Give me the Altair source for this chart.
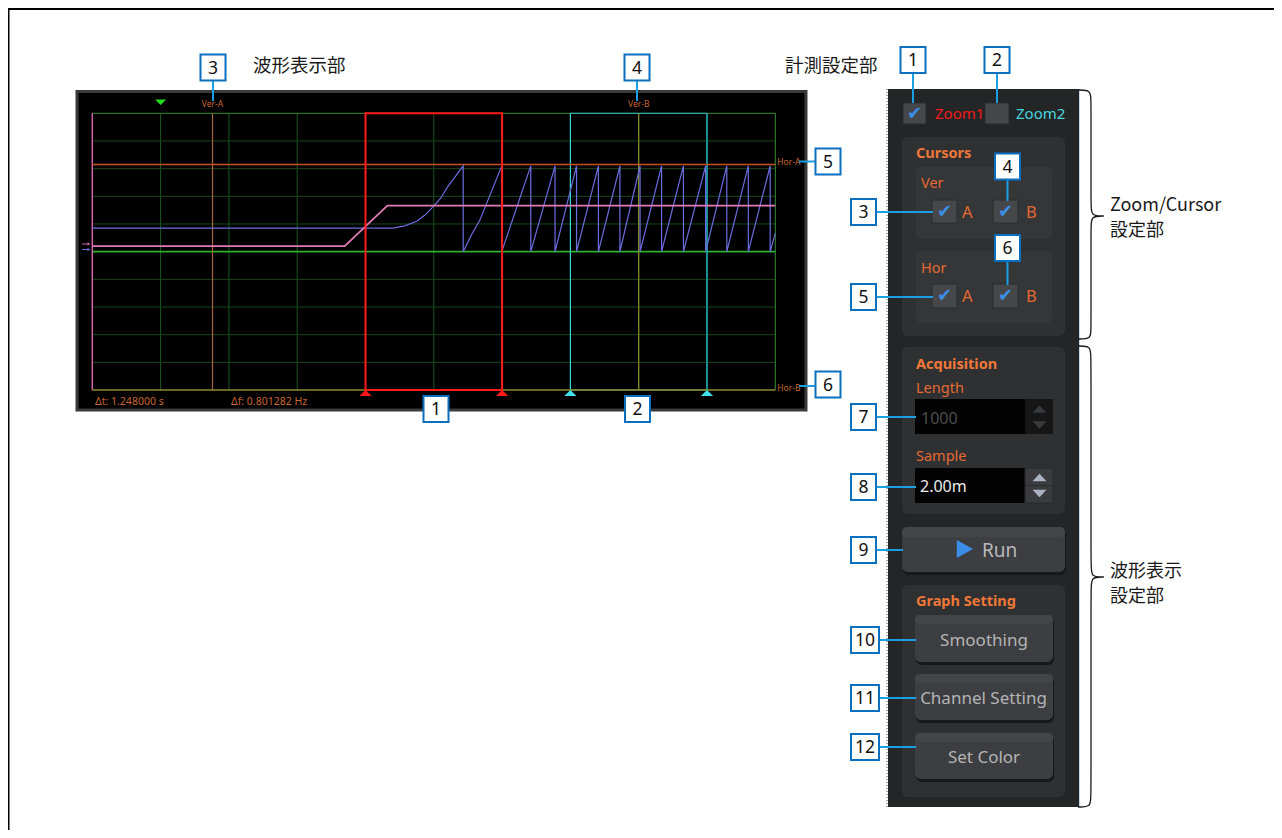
import altair as alt
import pandas as pd

# ======================= DATA =======================
# waveform display: time axis 0..2.0 s (10 div), value axis -5..5 div
time_grid = [0.2, 0.4, 0.6, 0.8, 1.0, 1.2, 1.4, 1.6, 1.8]
value_grid = [-4, -3, -2, -1, 1, 2, 3, 4]

ch1_t = [0.000, 0.739, 0.864, 2.000]
ch1_v = [0.20, 0.20, 1.66, 1.66]

ch2_t = [0.000, 0.880, 0.915, 0.950, 0.975, 1.001, 1.020, 1.041, 1.065, 1.086, 1.086,
         1.110, 1.135, 1.199, 1.199,
         1.284, 1.284, 1.355, 1.355, 1.418, 1.418, 1.482, 1.482, 1.545, 1.545,
         1.604, 1.604, 1.667, 1.667, 1.731, 1.731, 1.796, 1.796, 1.858, 1.858,
         1.921, 1.921, 1.985, 1.985, 2.000]
ch2_v = [0.85, 0.85, 0.93, 1.10, 1.33, 1.66, 1.93, 2.35, 2.75, 3.10, 0.00,
         0.60, 1.14, 3.10, 0.00,
         3.10, 0.00, 3.10, 0.00, 3.10, 0.00, 3.10, 0.00, 3.10, 0.00,
         3.10, 0.00, 3.10, 0.00, 3.10, 0.00, 3.10, 0.00, 3.10, 0.00,
         3.10, 0.00, 3.10, 0.00, 0.66]

ver_names = ["Ver-A", "Ver-B"]
ver_t = [0.352, 1.600]
hor_names = ["Hor-A", "Hor-B"]
hor_v = [3.15, -5.0]
zoom1_t = [0.8, 1.2]
zoom2_t = [1.4, 1.8]
trigger_t = [0.2]
delta_t = ver_t[1] - ver_t[0]

# UI texts
titles = ["波形表示部", "計測設定部"]
side_titles = [["Zoom/Cursor", "設定部"], ["波形表示", "設定部"]]
length_value = "1000"
sample_value = "2.00m"
buttons = ["Smoothing", "Channel Setting", "Set Color"]

# ======================= LAYOUT (page pixels) =======================
W, H = 1266, 822
OX, OY = 8, 8
PL, PR, PT, PB = 92.3, 775.3, 113.3, 390.0   # scope plot area
T_SPAN, V_DIV = 2.0, 10.0
V_LO, V_HI = -5.0, 5.0

PXS = alt.Scale(domain=[OX, OX + W], nice=False, zero=False)
PYS = alt.Scale(domain=[OY, OY + H], nice=False, zero=False, reverse=True)

kx = (PR - PL) / T_SPAN
ky = (PB - PT) / V_DIV
vmid = (PT + PB) / 2
TS = alt.Scale(domain=[(OX - PL) / kx, (OX + W - PL) / kx], nice=False, zero=False)
VS = alt.Scale(domain=[(vmid - (OY + H)) / ky, (vmid - OY) / ky], nice=False, zero=False)

SANS = "Noto Sans"
JP = "Noto Sans CJK JP"
ORANGE = "#ef7838"
SCOPE_TXT = "#c8662e"


def enc_px(x="x", y="y", x2=None, y2=None):
    e = dict(x=alt.X(f"{x}:Q", scale=PXS, axis=None),
             y=alt.Y(f"{y}:Q", scale=PYS, axis=None))
    if x2:
        e["x2"] = alt.X2(f"{x2}:Q")
    if y2:
        e["y2"] = alt.Y2(f"{y2}:Q")
    return e


def rects(boxes, **kw):
    df = pd.DataFrame(boxes, columns=["x", "x2", "y", "y2"])
    return alt.Chart(df).mark_rect(**kw).encode(**enc_px("x", "y", "x2", "y2"))


def lines(segs, **kw):
    df = pd.DataFrame(segs, columns=["x", "y", "x2", "y2"])
    return alt.Chart(df).mark_rule(**kw).encode(**enc_px("x", "y", "x2", "y2"))


def texts(rows, **kw):
    df = pd.DataFrame(rows, columns=["x", "y", "t"])
    return alt.Chart(df).mark_text(**kw).encode(**enc_px(), text="t:N")


def points(rows, **kw):
    df = pd.DataFrame(rows, columns=["x", "y"])
    return alt.Chart(df).mark_point(**kw).encode(**enc_px())


def enc_w(x="t", y="v", x2=None, y2=None):
    e = dict(x=alt.X(f"{x}:Q", scale=TS, axis=None),
             y=alt.Y(f"{y}:Q", scale=VS, axis=None))
    if x2:
        e["x2"] = alt.X2(f"{x2}:Q")
    if y2:
        e["y2"] = alt.Y2(f"{y2}:Q")
    return e


def vrules(ts, **kw):
    df = pd.DataFrame({"t": ts, "v": [V_LO] * len(ts), "v2": [V_HI] * len(ts)})
    return alt.Chart(df).mark_rule(**kw).encode(**enc_w("t", "v", None, "v2"))


def hrules(vs, **kw):
    df = pd.DataFrame({"v": vs, "t": [0.0] * len(vs), "t2": [T_SPAN] * len(vs)})
    return alt.Chart(df).mark_rule(**kw).encode(**enc_w("t", "v", "t2", None))


layers = []
# ----------------------------- background -----------------------------
layers += [
    lines([[OX, 9, OX + W, 9], [OX + 0.5, 9, OX + 0.5, OY + H]], color="#000", strokeWidth=2),
    rects([[77, 806, 91.5, 410]], fill="#000", stroke="#3a3a3a", strokeWidth=3),
    rects([[888, 1079, 89, 807]], fill="#242527"),
    lines([[887, 89, 887, 807]], color="#555", strokeWidth=1, strokeDash=[1, 2]),
    lines([[1079.5, 89, 1079.5, 807]], color="#c6d6e6", strokeWidth=1),
    rects([[902, 1065, 137, 336], [902, 1065, 347, 514], [902, 1065, 585, 797]],
          fill="#2f3032", cornerRadius=6),
    rects([[916, 1052, 167, 239], [916, 1052, 251, 323]], fill="#353638", cornerRadius=5),
    rects([[903, 1066, 529, 575], [916, 1054, 617, 665], [916, 1054, 676, 723], [916, 1054, 735, 782]],
          fill="#18191a", cornerRadius=6),
    rects([[902, 1065, 527, 572], [915, 1053, 615, 662], [915, 1053, 674, 720], [915, 1053, 733, 779]],
          fill="#3d3e41", cornerRadius=6),
    rects([[902, 1065, 527, 537], [915, 1053, 615, 624], [915, 1053, 674, 683], [915, 1053, 733, 742]],
          fill="#444548", cornerRadius=6),
    rects([[915, 1025, 399, 434], [915, 1025, 468, 503]], fill="#030303"),
    rects([[1025, 1053, 399, 434]], fill="#161616"),
    rects([[1025, 1053, 468, 503]], fill="#3a3b3e", stroke="#2a2a2a", strokeWidth=1),
    lines([[1026, 485.5, 1052, 485.5]], color="#2a2b2d", strokeWidth=1),
    rects([[903, 926, 103, 124], [985, 1009, 103, 124],
           [932, 957, 200, 223], [993, 1018, 200, 223],
           [932, 957, 284, 308], [993, 1018, 284, 308]],
          fill="#46474a", stroke="#2b2c2e", strokeWidth=1),
]

# ----------------------------- waveform layers -----------------------------
layers += [
    vrules(time_grid, color="#1d571d", strokeWidth=1),
    hrules(value_grid, color="#1a461a", strokeWidth=1),
    hrules([V_HI], color="#3a8c3a", strokeWidth=1),
    vrules([T_SPAN], color="#3a8c3a", strokeWidth=1),
    hrules([0.0], color="#2fb02f", strokeWidth=1.6),
    vrules([0.0], color="#d264a8", strokeWidth=1.5),
    alt.Chart(pd.DataFrame({"t": [zoom2_t[0]], "t2": [zoom2_t[1]], "v": [V_LO], "v2": [V_HI]}))
    .mark_rect(fillOpacity=0, stroke="#2bbcc4", strokeWidth=1)
    .encode(**enc_w("t", "v", "t2", "v2")),
    vrules([zoom2_t[0]], color="#3fd6dc", strokeWidth=1),
    vrules([zoom2_t[1]], color="#1a9ea6", strokeWidth=1.3),
    vrules([ver_t[0]], color="#a8643a", strokeWidth=1.2),
    vrules([ver_t[1]], color="#8e8c2a", strokeWidth=1.2),
    hrules([hor_v[0]], color="#c4521e", strokeWidth=1.3),
    hrules([hor_v[1]], color="#8e8c2a", strokeWidth=1.5),
    alt.Chart(pd.DataFrame({"t": ch2_t, "v": ch2_v, "i": list(range(len(ch2_t)))}))
    .mark_line(color="#6c6ee0", strokeWidth=1.2)
    .encode(order="i:Q", **enc_w()),
    alt.Chart(pd.DataFrame({"t": ch1_t, "v": ch1_v, "i": list(range(len(ch1_t)))}))
    .mark_line(color="#e27ab8", strokeWidth=1.8)
    .encode(order="i:Q", **enc_w()),
    alt.Chart(pd.DataFrame({"t": [zoom1_t[0]], "t2": [zoom1_t[1]], "v": [V_LO], "v2": [V_HI]}))
    .mark_rect(fillOpacity=0, stroke="#ff1a1a", strokeWidth=2)
    .encode(**enc_w("t", "v", "t2", "v2")),
    alt.Chart(pd.DataFrame({"t": zoom1_t, "v": [V_LO, V_LO]}))
    .mark_point(shape="M-1,0.5L0,-0.5L1,0.5Z", size=150, filled=True, color="#ff1a1a", opacity=1, yOffset=3)
    .encode(**enc_w()),
    alt.Chart(pd.DataFrame({"t": zoom2_t, "v": [V_LO, V_LO]}))
    .mark_point(shape="M-1,0.5L0,-0.5L1,0.5Z", size=150, filled=True, color="#3fe0ea", opacity=1, yOffset=3)
    .encode(**enc_w()),
    alt.Chart(pd.DataFrame({"t": trigger_t, "v": [V_HI]}))
    .mark_point(shape="M-1,-0.5L1,-0.5L0,0.5Z", size=121, filled=True, color="#22dd22", opacity=1, yOffset=-11)
    .encode(**enc_w()),
    alt.Chart(pd.DataFrame({"t": ver_t, "v": [V_HI, V_HI], "n": ver_names}))
    .mark_text(font=SANS, fontSize=8.5, color=SCOPE_TXT, dy=-9)
    .encode(text="n:N", **enc_w()),
    alt.Chart(pd.DataFrame({"t": [T_SPAN, T_SPAN], "v": hor_v, "n": hor_names}))
    .mark_text(font=SANS, fontSize=8.5, color=SCOPE_TXT, align="left", dx=2, dy=-2)
    .encode(text="n:N", **enc_w()),
]

# channel markers at the left edge of the scope (small arrows)
layers += [
    lines([[82, 244, 89, 244]], color="#d264a8", strokeWidth=1),
    lines([[82, 249.5, 89, 249.5]], color="#6c6ee0", strokeWidth=1),
    points([[89, 244]], shape="M-1,-1L1,0L-1,1Z", size=9, filled=True, color="#d264a8", opacity=1),
    points([[89, 249.5]], shape="M-1,-1L1,0L-1,1Z", size=9, filled=True, color="#6c6ee0", opacity=1),
]

# ----------------------------- foreground -----------------------------
layers += [
    texts([[95, 402, f"Δt: {delta_t:.6f} s"], [231, 402, f"Δf: {1 / delta_t:.6f} Hz"]],
          font=SANS, fontSize=10.5, color=SCOPE_TXT, align="left", baseline="middle"),
    texts([[253, 66, titles[0]], [785, 66, titles[1]]], font=JP, fontSize=18.5, color="#1a1a1a",
          align="left", baseline="middle"),
    texts([[1110, 206, side_titles[0][0]], [1110, 231, side_titles[0][1]],
           [1110, 572, side_titles[1][0]], [1110, 597, side_titles[1][1]]],
          font=JP, fontSize=18, color="#1a1a1a", align="left", baseline="middle"),
    texts([[935, 114, "Zoom1"]], font=SANS, fontSize=15, color="#f01818", align="left", baseline="middle"),
    texts([[1016, 114, "Zoom2"]], font=SANS, fontSize=15, color="#48d4dc", align="left", baseline="middle"),
    texts([[916, 153.5, "Cursors"], [916, 364.5, "Acquisition"], [916, 601.5, "Graph Setting"]],
          font=SANS, fontSize=14.5, fontWeight="bold", color=ORANGE, align="left", baseline="middle"),
    texts([[921, 184, "Ver"], [921, 269, "Hor"], [916, 389, "Length"], [916, 457, "Sample"]],
          font=SANS, fontSize=14.5, color="#e46a32", align="left", baseline="middle"),
    texts([[962, 213, "A"], [1026, 213, "B"], [962, 297, "A"], [1026, 297, "B"]],
          font=SANS, fontSize=16.5, color="#e46a32", align="left", baseline="middle"),
    texts([[921, 419, length_value]], font=SANS, fontSize=16, color="#4c4c4c", align="left", baseline="middle"),
    texts([[920, 487, sample_value]], font=SANS, fontSize=16, color="#ececec", align="left", baseline="middle"),
    texts([[984, 641, buttons[0]], [983.5, 699, buttons[1]], [984, 758, buttons[2]]],
          font=SANS, fontSize=17, color="#b4b4b6", align="center", baseline="middle"),
    texts([[982, 551, "Run"]], font=SANS, fontSize=19, color="#b9b9bb", align="left", baseline="middle"),
    points([[964, 549]], shape="M-0.8,-1L1,0L-0.8,1Z", size=324, filled=True, color="#3a8ee6", opacity=1),
    points([[1039.5, 409]], shape="M-1,0.55L0,-0.55L1,0.55Z", size=196, filled=True, color="#38393b", opacity=1),
    points([[1039.5, 425]], shape="M-1,-0.55L1,-0.55L0,0.55Z", size=196, filled=True, color="#38393b", opacity=1),
    points([[1039.5, 477.5]], shape="M-1,0.55L0,-0.55L1,0.55Z", size=196, filled=True, color="#aab2c2", opacity=1),
    points([[1039.5, 493.5]], shape="M-1,-0.55L1,-0.55L0,0.55Z", size=196, filled=True, color="#aab2c2", opacity=1),
    texts([[914.5, 114, "✔"], [944.5, 212, "✔"], [1005.5, 212, "✔"], [944.5, 296, "✔"], [1005.5, 296, "✔"]],
          font="DejaVu Sans", fontSize=18, color="#3b8fe6", align="center", baseline="middle"),
]

brace1 = [(1078, 90), (1091, 90), (1091, 100), (1091, 205), (1091, 216), (1104, 216), (1104, 216),
          (1091, 216), (1091, 227), (1091, 330), (1091, 339), (1078, 339)]
brace2 = [(1078, 346), (1091, 346), (1091, 356), (1091, 566), (1091, 577), (1104, 577), (1104, 577),
          (1091, 577), (1091, 588), (1091, 797), (1091, 807), (1078, 807)]
for b in (brace1, brace2):
    df = pd.DataFrame({"x": [p[0] for p in b], "y": [p[1] for p in b], "i": list(range(len(b)))})
    layers.append(alt.Chart(df).mark_line(color="#1a1a1a", strokeWidth=1.3, interpolate="basis")
                  .encode(order="i:Q", **enc_px()))

callouts = [("3", 213, 67.5), ("4", 637, 67.5), ("5", 828, 161.5), ("6", 828, 384.5),
            ("1", 436, 409), ("2", 637.5, 409), ("1", 913, 60), ("2", 997, 60),
            ("3", 863.5, 212), ("4", 1007.5, 166.5), ("5", 863.5, 297), ("6", 1007.5, 248),
            ("7", 863.5, 417), ("8", 863.5, 487), ("9", 863.5, 550),
            ("10", 865, 640), ("11", 865, 698), ("12", 865, 747)]
connectors = [[213, 81, 213, 101], [637, 81, 637, 101], [799, 161.5, 815, 161.5], [799, 386, 815, 386],
              [913, 73, 913, 103], [997, 73, 997, 103], [876, 212, 933, 212], [1007.5, 180, 1007.5, 201],
              [876, 297, 933, 297], [1007.5, 261, 1007.5, 285], [876, 417, 916, 417], [876, 487, 916, 487],
              [876, 550, 903, 550], [879, 640, 916, 640], [879, 698, 916, 698], [879, 747, 916, 747]]
layers.append(lines(connectors, color="#1aa0e2", strokeWidth=2))
boxes = []
for lab, cx, cy in callouts:
    hw = 14 if len(lab) > 1 else 12.5
    boxes.append([cx - hw, cx + hw, cy - 13, cy + 13])
layers.append(rects(boxes, fill="#ffffff", stroke="#0b6fbf", strokeWidth=2))
layers.append(texts([[cx, cy + 1, lab] for lab, cx, cy in callouts], font=SANS, fontSize=17.5,
                    color="#111", align="center", baseline="middle"))

chart = alt.layer(*layers).resolve_scale(x="independent", y="independent").properties(
    width=W, height=H, padding=0, autosize=alt.AutoSizeParams(type="none"),
    background="#ffffff"
).configure_view(stroke=None)

chart.save("out.html", embed_options={"renderer": "svg", "actions": False})
